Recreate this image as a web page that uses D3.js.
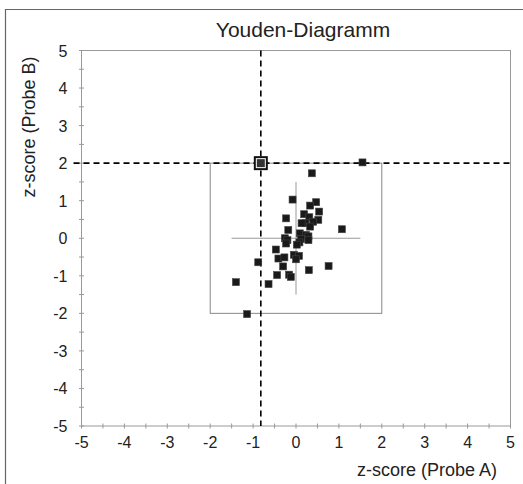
<!DOCTYPE html>
<html><head><meta charset="utf-8">
<script src="https://cdn.jsdelivr.net/npm/d3@7"></script>
<style>body{margin:0;background:#fff}svg{display:block}text{font-family:Arial,"Liberation Sans",sans-serif;fill:#222}</style>
</head><body>
<script>
const xTicks = [-5,-4,-3,-2,-1,0,1,2,3,4,5];
const yTicks = [-5,-4,-3,-2,-1,0,1,2,3,4,5];
const xMinor = d3.range(-5,5.01,0.5);
const yMinor = d3.range(-5,5.01,0.5);
const zA = [1.55,0.37,-0.08,0.47,0.33,0.54,0.19,0.31,-0.23,0.52,0.40,0.22,0.13,0.33,1.07,-0.18,0.09,0.23,0.29,-0.26,-0.20,0.12,0.29,-0.23,0.08,0.02,-0.47,-0.41,-0.27,-0.05,0.07,0.00,-0.88,-0.30,0.76,0.30,-0.44,-0.16,-0.12,-1.40,-0.64,-1.14];
const zB = [2.02,1.73,1.03,0.96,0.87,0.71,0.64,0.56,0.53,0.49,0.44,0.40,0.40,0.31,0.24,0.22,0.13,0.09,0.05,0.00,-0.05,-0.02,-0.05,-0.14,-0.11,-0.17,-0.30,-0.54,-0.51,-0.44,-0.47,-0.56,-0.64,-0.75,-0.74,-0.85,-0.98,-0.97,-1.03,-1.17,-1.22,-2.02];
const ownLab = [-0.82, 2.0];
const limit = 2;
const cross = {x:0, y:0, half:1.5};

const W=523,H=484;
const svg=d3.select("body").append("svg").attr("width",W).attr("height",H);
const x=d3.scaleLinear().domain([-5,5]).range([81.5,510.5]);
const y=d3.scaleLinear().domain([-5,5]).range([426,50.5]);

// outer frame (left/top visible)
svg.append("path").attr("d",`M5.5,${H+2} V9.5 H${W+2}`).attr("fill","none").attr("stroke","#666").attr("stroke-width",1.2);

// title
svg.append("text").attr("x",303).attr("y",37).attr("text-anchor","middle").attr("font-size",21).text("Youden-Diagramm");

// plot frame
const g=svg.append("g");
g.append("rect").attr("x",x(-5)).attr("y",y(5)).attr("width",x(5)-x(-5)).attr("height",y(-5)-y(5))
 .attr("fill","none").attr("stroke","#999").attr("stroke-width",1);

// ticks (crossing axis)
g.selectAll(".xt").data(xMinor).join("line").attr("x1",d=>x(d)).attr("x2",d=>x(d)).attr("y1",y(-5)-2.5).attr("y2",y(-5)+2.5).attr("stroke","#999");
g.selectAll(".yt").data(yMinor).join("line").attr("y1",d=>y(d)).attr("y2",d=>y(d)).attr("x1",x(-5)-2.5).attr("x2",x(-5)+2.5).attr("stroke","#999");

// tick labels
g.selectAll(".xl").data(xTicks).join("text").attr("x",d=>x(d)).attr("y",y(-5)+22).attr("text-anchor","middle").attr("font-size",16).text(d=>d);
g.selectAll(".yl").data(yTicks).join("text").attr("x",x(-5)-14).attr("y",d=>y(d)+6).attr("text-anchor","end").attr("font-size",16).text(d=>d);

// axis labels
svg.append("text").attr("x",497).attr("y",476).attr("text-anchor","end").attr("font-size",18).text("z-score (Probe A)");
svg.append("text").attr("transform",`translate(35,127) rotate(-90)`).attr("text-anchor","middle").attr("font-size",18).text("z-score (Probe B)");

// limit box
g.append("rect").attr("x",x(-limit)).attr("y",y(limit)).attr("width",x(limit)-x(-limit)).attr("height",y(-limit)-y(limit))
 .attr("fill","none").attr("stroke","#888").attr("stroke-width",1);
// crosshair
g.append("line").attr("x1",x(cross.x-cross.half)).attr("x2",x(cross.x+cross.half)).attr("y1",y(cross.y)).attr("y2",y(cross.y)).attr("stroke","#999");
g.append("line").attr("x1",x(cross.x)).attr("x2",x(cross.x)).attr("y1",y(cross.y+cross.half)).attr("y2",y(cross.y-cross.half)).attr("stroke","#999");

// dashed lines
g.append("line").attr("x1",x(-5)-8).attr("x2",x(5)+2).attr("y1",y(ownLab[1])).attr("y2",y(ownLab[1])).attr("stroke","#000").attr("stroke-width",1.6).attr("stroke-dasharray","6,4");
g.append("line").attr("x1",x(ownLab[0])).attr("x2",x(ownLab[0])).attr("y1",y(5)).attr("y2",y(-5)).attr("stroke","#000").attr("stroke-width",1.6).attr("stroke-dasharray","6,4");

// points
const s=7;
g.selectAll(".pt").data(zA.map((a,i)=>[a,zB[i]])).join("rect")
 .attr("x",d=>x(d[0])-s/2).attr("y",d=>y(d[1])-s/2).attr("width",s).attr("height",s)
 .attr("fill","#1a1a1a").attr("stroke","#444").attr("stroke-width",0.6);

// own lab point
g.append("rect").attr("x",x(ownLab[0])-6).attr("y",y(ownLab[1])-6).attr("width",12).attr("height",12).attr("fill","#fff").attr("stroke","#111").attr("stroke-width",2);
g.append("rect").attr("x",x(ownLab[0])-4).attr("y",y(ownLab[1])-4).attr("width",8).attr("height",8).attr("fill","#333");
</script>
</body></html>
